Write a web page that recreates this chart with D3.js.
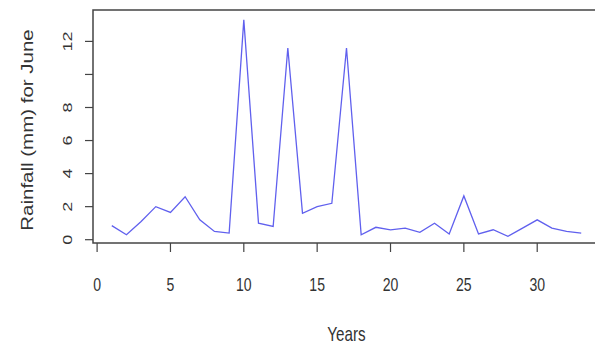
<!DOCTYPE html>
<html>
<head>
<meta charset="utf-8">
<script src="https://cdn.jsdelivr.net/npm/d3@7"></script>
<style>
  body { margin: 0; background: #fff; }
  text { font-family: "Liberation Sans", Arial, sans-serif; fill: #333; }
</style>
</head>
<body>
<svg id="chart" width="595" height="347" viewBox="0 0 595 347"></svg>
<script>
// June rainfall (mm), one value per year
let years = d3.range(1, 34)
let rainfall = [0.85, 0.3, 1.1, 2.0, 1.65, 2.6, 1.2, 0.5, 0.4, 13.3,
                1.0, 0.8, 11.6, 1.6, 2.0, 2.2, 11.6, 0.3, 0.75, 0.6,
                0.7, 0.45, 1.0, 0.35, 2.65, 0.35, 0.6, 0.2, 0.7, 1.2,
                0.7, 0.5, 0.4]
let x_ticks = [0, 5, 10, 15, 20, 25, 30]
let y_ticks = [0, 2, 4, 6, 8, 10, 12]
let y_labels = ["0", "2", "4", "6", "8", "", "12"]

let svg = d3.select("#chart")
let box_left = 93, box_top = 10, box_right = 600, box_bottom = 243
let sx = 0.76   // the picture is squeezed sideways

let x = d3.scaleLinear().domain([-0.28, 34.28]).range([box_left, box_right])
let y = d3.scaleLinear().domain([-0.2, 13.9]).range([box_bottom, box_top])

// plot box
svg.append("rect")
    .attr("x", box_left).attr("y", box_top)
    .attr("width", box_right - box_left).attr("height", box_bottom - box_top)
    .attr("fill", "none")
    .attr("stroke", "#444")
    .attr("stroke-width", 1.5)

// x axis ticks
svg.append("g").selectAll("line")
    .data(x_ticks).enter().append("line")
    .attr("x1", d => x(d)).attr("x2", d => x(d))
    .attr("y1", box_bottom).attr("y2", box_bottom + 9)
    .attr("stroke", "#444").attr("stroke-width", 1.2)

svg.append("g").selectAll("text")
    .data(x_ticks).enter().append("text")
    .attr("transform", d => `translate(${x(d)},291) scale(${sx},1)`)
    .attr("text-anchor", "middle")
    .style("font-size", "18.5px")
    .text(d => d)

// y axis ticks
svg.append("g").selectAll("line")
    .data(y_ticks).enter().append("line")
    .attr("x1", box_left - 8).attr("x2", box_left)
    .attr("y1", d => y(d)).attr("y2", d => y(d))
    .attr("stroke", "#444").attr("stroke-width", 1.2)

svg.append("g").selectAll("text")
    .data(y_ticks).enter().append("text")
    .attr("transform", d => `translate(72,${y(d)}) scale(${sx},1) rotate(-90)`)
    .attr("text-anchor", "middle")
    .style("font-size", "18px")
    .text((d, i) => y_labels[i])

// axis titles
svg.append("text")
    .attr("transform", `translate(${(box_left + box_right) / 2},341) scale(${sx},1)`)
    .attr("text-anchor", "middle")
    .style("font-size", "20px")
    .text("Years")

svg.append("text")
    .attr("transform", `translate(33,130) scale(${sx},1) rotate(-90)`)
    .attr("text-anchor", "middle")
    .style("font-size", "20.5px")
    .text("Rainfall (mm) for June")

// rainfall line
let line = d3.line()
    .x((d, i) => x(years[i]))
    .y(d => y(d))

svg.append("path")
    .datum(rainfall)
    .attr("d", line)
    .attr("fill", "none")
    .attr("stroke", "#6060ee")
    .attr("stroke-width", 1.3)
</script>
</body>
</html>
